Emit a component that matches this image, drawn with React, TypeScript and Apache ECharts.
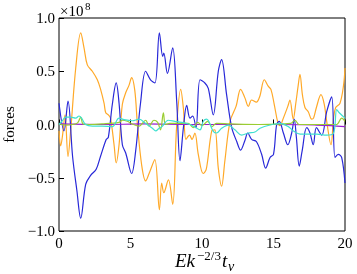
import React, { useEffect, useRef } from "react";
import * as echarts from "echarts";

// x in units of E k^{-2/3} t_nu, y in units of 1e8
const xTicks = [0, 5, 10, 15, 20];
const yTicks = [-1.0, -0.5, 0.0, 0.5, 1.0];

const blueForce: [number, number][] = [
  [0, 0.2], [0.35, -0.06], [0.63, 0.22], [0.95, -0.3], [1.25, -0.62], [1.52, -0.88],
  [1.87, -0.56], [2.2, -0.48], [2.6, -0.42], [2.9, -0.3], [3.3, -0.14], [3.45, -0.12],
  [3.73, 0.19], [4.0, 0.39], [4.2, 0.2], [4.43, -0.19], [4.67, -0.27], [5.08, -0.46],
  [5.36, -0.25], [5.7, 0.2], [6.06, 0.5], [6.4, 0.42], [6.71, 0.39], [7.02, 0.86],
  [7.25, 0.64], [7.33, 0.67], [7.58, 0.48], [7.95, 0.72], [8.23, 0.22], [8.46, -0.34],
  [8.7, -0.03], [8.93, 0.18], [9.16, 0.06], [9.35, 0.08], [9.58, -0.03], [9.86, 0.42],
  [10.2, 0.39], [10.44, 0.34], [10.79, 0.09], [11.14, 0.5], [11.37, 0.61], [11.72, 0.28],
  [12.08, -0.03], [12.43, -0.16], [12.7, -0.24], [13.0, -0.15], [13.2, -0.08], [13.47, -0.14],
  [13.8, -0.16], [14.17, -0.28], [14.45, -0.41], [14.76, -0.31], [15.0, -0.28], [15.22, 0.0],
  [15.4, 0.03], [15.69, -0.08], [16.0, -0.19], [16.27, -0.08], [16.45, 0.05], [16.6, -0.12],
  [16.8, -0.39], [17.0, -0.25], [17.32, -0.03], [17.55, -0.08], [17.78, -0.19], [18.0, -0.03],
  [18.37, -0.1], [18.72, 0.12], [19.07, 0.26], [19.3, -0.31], [19.53, -0.28], [19.77, -0.31],
  [20.0, -0.55],
];

const orangeForce: [number, number][] = [
  [0, -0.06], [0.12, -0.2], [0.25, -0.1], [0.42, 0.09], [0.63, -0.3], [0.82, -0.05],
  [1.17, 0.53], [1.52, 0.86], [1.75, 0.72], [1.98, 0.56], [2.33, 0.5], [2.68, 0.42],
  [2.91, 0.33], [3.15, 0.2], [3.27, 0.11], [3.45, 0.09], [3.6, 0.06], [3.85, -0.19],
  [4.0, -0.36], [4.2, -0.19], [4.43, 0.19], [4.67, 0.3], [4.9, 0.37], [5.08, 0.44],
  [5.3, 0.32], [5.48, 0.01], [5.78, -0.38], [6.06, -0.53], [6.3, -0.46], [6.7, -0.33],
  [7.02, -0.8], [7.18, -0.55], [7.33, -0.64], [7.65, -0.52], [7.95, -0.75], [8.23, -0.01],
  [8.51, 0.33], [8.7, 0.15], [8.88, -0.14], [9.13, -0.1], [9.3, -0.14], [9.5, -0.08],
  [9.74, -0.28], [10.08, -0.46], [10.3, -0.42], [10.68, -0.06], [10.9, -0.05], [11.14, -0.41],
  [11.37, -0.58], [11.6, -0.34], [11.96, 0.03], [12.38, 0.17], [12.7, 0.33], [13.0, 0.25],
  [13.24, 0.17], [13.47, 0.23], [13.8, 0.21], [14.03, 0.26], [14.36, 0.42], [14.63, 0.36],
  [14.82, 0.33], [15.05, 0.19], [15.3, 0.02], [15.45, -0.01], [15.69, 0.06], [16.0, 0.17],
  [16.15, 0.23], [16.38, 0.05], [16.55, 0.19], [16.73, 0.37], [16.85, 0.47], [17.02, 0.28],
  [17.2, 0.16], [17.43, 0.12], [17.67, 0.05], [17.8, 0.06], [18.0, 0.16], [18.32, 0.28],
  [18.55, 0.19], [18.72, 0.03], [19.02, -0.19], [19.2, 0.06], [19.35, 0.16], [19.65, 0.2],
  [19.9, 0.37], [20.0, 0.53],
];

const cyanForce: [number, number][] = [
  [0, 0.0], [0.23, 0.035], [0.47, 0.07], [0.82, 0.07], [1.17, 0.06], [1.4, 0.08],
  [1.58, 0.06], [1.86, 0.0], [2.33, -0.015], [3.0, -0.015], [3.73, -0.02], [4.2, 0.06],
  [4.55, 0.045], [5.13, 0.035], [5.6, 0.05], [6.06, 0.01], [6.53, -0.035], [6.76, -0.06],
  [7.0, -0.035], [7.2, -0.02], [7.64, 0.04], [8.1, 0.03], [8.57, 0.02], [9.04, 0.005],
  [9.39, -0.015], [9.86, -0.05], [10.09, 0.03], [10.32, 0.05], [10.79, -0.065], [11.02, -0.08],
  [11.37, -0.035], [11.84, -0.005], [12.3, -0.05], [12.77, -0.1], [13.24, -0.08], [13.7, -0.07],
  [14.06, -0.035], [14.76, -0.005], [15.46, 0.01], [16.04, -0.02], [16.39, -0.06], [16.86, -0.09],
  [18.02, -0.09], [18.72, -0.1], [19.19, -0.085], [19.42, 0.14], [19.6, 0.11], [20.0, 0.06],
];

const greenForce: [number, number][] = [
  [0, 0.005], [0.47, -0.005], [0.93, 0.0], [1.3, 0.015], [1.52, 0.07], [1.68, 0.005],
  [2.1, 0.0], [3.0, 0.005], [4.2, 0.02], [4.43, 0.04], [4.78, 0.03], [5.13, 0.005],
  [5.6, -0.015], [6.06, 0.04], [6.3, -0.015], [6.64, 0.04], [6.9, 0.02], [7.1, -0.05],
  [7.3, 0.11], [7.45, 0.0], [7.76, 0.01], [9.04, 0.01], [9.4, -0.03], [9.7, 0.02],
  [10.0, -0.01], [10.4, 0.03], [10.7, -0.02], [11.0, 0.01], [12.0, 0.005], [14.0, 0.0],
  [16.2, 0.01], [16.5, 0.04], [16.8, 0.0], [19.0, 0.0], [19.42, 0.0], [19.77, 0.06],
  [20.0, 0.03],
];

const purpleForce: [number, number][] = [
  [0, 0.005], [3, 0.0], [6, 0.005], [9, 0.0], [12, 0.0], [15, 0.0], [18, -0.005],
  [19, -0.01], [20, -0.02],
];

const xLabelParts = ["Ek", "\u22122/3", "t", "\u03bd"];
const yLabel = "forces";
const yScaleText = "\u00d710";
const yScaleExp = "8";

const SERIF = "Liberation Serif";
const fmt = (v: number) => v.toFixed(1).replace("-", "\u2212");

export default function App() {
  const ref = useRef<HTMLDivElement>(null);
  useEffect(() => {
    if (!ref.current) return;
    const chart = echarts.init(ref.current, undefined, { renderer: "svg" });
    const mk = (name: string, data: [number, number][], color: string, width: number, z: number) => ({
      name,
      type: "line",
      data,
      smooth: 0.35,
      symbol: "none",
      z,
      lineStyle: { color, width },
    });
    const txt = (text: string, left: number, top: number, size: number, italic: boolean) => ({
      type: "text",
      left,
      top,
      style: { text, fontFamily: SERIF, fontSize: size, fontStyle: italic ? "italic" : "normal", fill: "#000" },
    });
    chart.setOption({
      animation: false,
      textStyle: { fontFamily: SERIF },
      grid: {
        left: 59, top: 18, right: 12, bottom: 43,
        show: true, borderColor: "#000", borderWidth: 1,
        outerBoundsMode: "none",
      },
      xAxis: {
        type: "value",
        min: xTicks[0], max: xTicks[xTicks.length - 1], interval: 5,
        axisLine: { show: false },
        axisTick: { show: true, inside: true, length: 5, lineStyle: { color: "#000" } },
        splitLine: { show: false },
        axisLabel: { color: "#000", fontFamily: SERIF, fontSize: 15, lineHeight: 13, margin: 5 },
      },
      yAxis: {
        type: "value",
        min: yTicks[0], max: yTicks[yTicks.length - 1], interval: 0.5,
        axisLine: { show: false },
        axisTick: { show: true, inside: true, length: 5, lineStyle: { color: "#000" } },
        splitLine: { show: false },
        axisLabel: { color: "#000", fontFamily: SERIF, fontSize: 15, margin: 4, formatter: (v: number) => fmt(v) },
        name: yLabel,
        nameLocation: "middle",
        nameRotate: 90,
        nameGap: 34,
        nameTextStyle: { color: "#000", fontFamily: SERIF, fontSize: 15 },
      },
      graphic: [
        txt(yScaleText, 60, 3, 15, false),
        txt(yScaleExp, 85, 0, 11, false),
        txt(xLabelParts[0], 175, 251, 19, true),
        txt(xLabelParts[1], 197, 249, 13, false),
        txt(xLabelParts[2], 222, 251, 19, true),
        txt(xLabelParts[3], 228, 259, 14, true),
      ],
      series: [
        mk("orange", orangeForce, "#ffa928", 1.2, 2),
        mk("blue", blueForce, "#2828d8", 1.2, 3),
        mk("purple", purpleForce, "#9a1fd0", 1.2, 4),
        mk("green", greenForce, "#9acd32", 1.2, 5),
        mk("cyan", cyanForce, "#40e0d0", 1.2, 6),
      ],
    });
    return () => chart.dispose();
  }, []);
  return <div ref={ref} style={{ position: "fixed", left: 0, top: 0, width: 357, height: 274 }} />;
}
